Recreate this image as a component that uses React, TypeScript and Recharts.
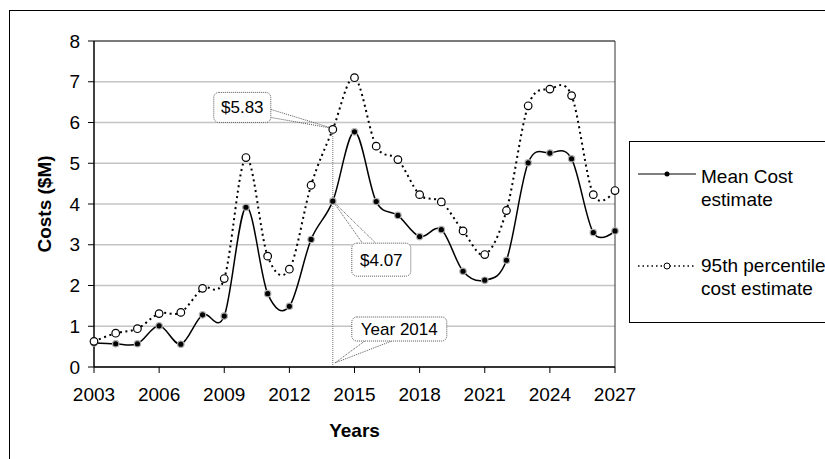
import React from "react";
import { LineChart, Line, XAxis, YAxis, CartesianGrid, Legend, ReferenceLine, ReferenceDot } from "recharts";

const years = [2003, 2004, 2005, 2006, 2007, 2008, 2009, 2010, 2011, 2012, 2013, 2014, 2015, 2016, 2017, 2018, 2019, 2020, 2021, 2022, 2023, 2024, 2025, 2026, 2027];
const meanCost = [0.59, 0.57, 0.57, 1.01, 0.56, 1.28, 1.25, 3.92, 1.8, 1.49, 3.13, 4.07, 5.77, 4.06, 3.72, 3.2, 3.37, 2.35, 2.13, 2.62, 5.01, 5.25, 5.11, 3.3, 3.34];
const p95Cost = [0.63, 0.83, 0.94, 1.31, 1.34, 1.93, 2.17, 5.14, 2.72, 2.4, 4.46, 5.83, 7.1, 5.42, 5.09, 4.23, 4.05, 3.34, 2.76, 3.84, 6.41, 6.82, 6.66, 4.23, 4.33];
const xTicks = [2003, 2006, 2009, 2012, 2015, 2018, 2021, 2024, 2027];
const yTicks = [0, 1, 2, 3, 4, 5, 6, 7, 8];
const seriesNames = ["Mean Cost estimate", "95th percentile cost estimate"];

const calloutYears = [2014, 2014, 2014];
const calloutValues = [5.83, 4.07, 0];
const calloutTexts = ["$5.83", "$4.07", "Year 2014"];

const data = years.map((y, i) => ({ year: y, mean: meanCost[i], p95: p95Cost[i] }));

const FONT = '"Liberation Sans", Arial, sans-serif';

// placement of each callout box relative to its point
const calloutLayout = [
  { dx: -119, dy: -37, w: 57, h: 30, a: [-62, -20], b: [-62, -12], tip: [0, -1] },
  { dx: 19, dy: 42, w: 59, h: 33, a: [29, 41], b: [42, 41], tip: [0, 0] },
  { dx: 19, dy: -50, w: 95, h: 24, a: [32, -26], b: [59, -26], tip: [2, -4] },
];

// excel-like smoothed line (catmull-rom)
function smooth(context: any) {
  let x0 = NaN, y0 = NaN, x1 = NaN, y1 = NaN, x2 = NaN, y2 = NaN, n = 0, line = NaN;
  const k = 1 / 6;
  const seg = (x: number, y: number) =>
    context.bezierCurveTo(x1 + k * (x2 - x0), y1 + k * (y2 - y0), x2 + k * (x1 - x), y2 + k * (y1 - y), x2, y2);
  return {
    areaStart() { line = 0; },
    areaEnd() { line = NaN; },
    lineStart() { x0 = x1 = x2 = y0 = y1 = y2 = NaN; n = 0; },
    lineEnd() {
      if (n === 2) context.lineTo(x2, y2);
      else if (n === 3) seg(x1, y1);
      if (line || (line !== 0 && n === 1)) context.closePath();
      line = 1 - line;
    },
    point(x: number, y: number) {
      x = +x; y = +y;
      if (n === 0) { n = 1; if (line) context.lineTo(x, y); else context.moveTo(x, y); }
      else if (n === 1) { n = 2; x1 = x; y1 = y; }
      else { if (n === 2) n = 3; seg(x, y); }
      x0 = x1; x1 = x2; x2 = x;
      y0 = y1; y1 = y2; y2 = y;
    },
  };
}

const meanDot = (p: any) => (
  <circle key={`m-${p.index}`} cx={p.cx} cy={p.cy} r={3.2} fill="#000" stroke="#b0b0b0" strokeWidth={1.2} />
);
const p95Dot = (p: any) => (
  <circle key={`p-${p.index}`} cx={p.cx} cy={p.cy} r={3.8} fill="#fff" stroke="#000" strokeWidth={1.2} />
);

function Callout(props: any) {
  const { cx, cy, text, lay } = props;
  const bx = cx + lay.dx;
  const by = cy + lay.dy;
  return (
    <g>
      <polyline
        points={`${cx + lay.a[0]},${cy + lay.a[1]} ${cx + lay.tip[0]},${cy + lay.tip[1]} ${cx + lay.b[0]},${cy + lay.b[1]}`}
        fill="none" stroke="#555" strokeDasharray="1 1" />
      <rect x={bx} y={by} width={lay.w} height={lay.h} rx={5} fill="#fff" stroke="#555" strokeDasharray="1 1" />
      <text x={bx + lay.w / 2} y={by + lay.h / 2} dy="0.35em" textAnchor="middle" fontSize={17} fontFamily={FONT} fill="#000">
        {text}
      </text>
    </g>
  );
}

const legendRows: Record<string, { sampleY: number; textTop: number }> = {
  mean: { sampleY: 32, textTop: 22.5 },
  p95: { sampleY: 124, textTop: 111.5 },
};

const renderLegend = (props: any) => {
  const payload = props.payload || [];
  return (
    <div style={{ position: "relative", width: 200, height: 182, border: "1px solid #000", boxSizing: "border-box", background: "#fff", fontFamily: FONT, fontSize: 19, color: "#000" }}>
      {payload.map((entry: any) => {
        const row = legendRows[entry.dataKey];
        const dotted = entry.dataKey === "p95";
        return (
          <React.Fragment key={entry.value}>
            <svg width={60} height={12} style={{ position: "absolute", left: 8, top: row.sampleY - 6 }}>
              <line x1={0} y1={6} x2={58} y2={6} stroke="#000" strokeWidth={dotted ? 1.5 : 1} strokeDasharray={dotted ? "1.5 3" : undefined} />
              {dotted ? <circle cx={29} cy={6} r={3} fill="#fff" stroke="#000" /> : <circle cx={29} cy={6} r={2.5} fill="#000" />}
            </svg>
            <div style={{ position: "absolute", left: 71, top: row.textTop, width: 126, lineHeight: "23px" }}>{entry.value}</div>
          </React.Fragment>
        );
      })}
    </div>
  );
};

export default function App() {
  return (
    <div style={{ position: "absolute", left: 0, top: 0, width: 825, height: 459, overflow: "hidden", background: "#fff" }}>
      <div style={{ position: "absolute", left: 9, top: 10, width: 900, height: 500, border: "1px solid #000" }} />
      <div style={{ position: "absolute", left: 0, top: 0 }}>
        <LineChart width={825} height={459} data={data} margin={{ top: 41, right: 210, left: 34, bottom: 42 }}>
          <CartesianGrid vertical={false} stroke="#c4c4c4" strokeWidth={1.5} />
          <XAxis
            dataKey="year" type="number" domain={[2003, 2027]} ticks={xTicks} interval={0}
            tickSize={6} tickMargin={15} height={50}
            axisLine={{ stroke: "#000", strokeWidth: 1.5 }} tickLine={{ stroke: "#000" }}
            tick={{ fontSize: 19, fill: "#000", fontFamily: FONT }}
            label={{ value: "Years", position: "bottom", offset: 7, style: { fontSize: 19, fontWeight: "bold", fill: "#000", fontFamily: FONT } }}
          />
          <YAxis
            domain={[0, 8]} ticks={yTicks} interval={0} width={60} tickSize={6} tickMargin={8}
            axisLine={{ stroke: "#000", strokeWidth: 1.5 }} tickLine={{ stroke: "#000" }}
            tick={{ fontSize: 19, fill: "#000", fontFamily: FONT }}
            label={{ value: "Costs ($M)", angle: -90, position: "insideLeft", offset: 10, style: { textAnchor: "middle", fontSize: 19, fontWeight: "bold", fill: "#000", fontFamily: FONT } }}
          />
          <ReferenceLine y={8} stroke="#222" strokeWidth={1.2} />
          <ReferenceLine x={2027} stroke="#333" strokeWidth={1} />
          <ReferenceLine
            segment={[{ x: calloutYears[0], y: 0 }, { x: calloutYears[0], y: calloutValues[0] }]}
            stroke="#777" strokeDasharray="1 1"
          />
          <Legend layout="vertical" align="center" verticalAlign="middle" content={renderLegend}
            wrapperStyle={{ left: 629, top: 141, width: 200, height: 182, right: "auto", bottom: "auto" }} />
          <Line name={seriesNames[0]} dataKey="mean" type={smooth as any} stroke="#000" strokeWidth={1.5} dot={meanDot} activeDot={false} isAnimationActive={false} />
          <Line name={seriesNames[1]} dataKey="p95" type={smooth as any} stroke="#000" strokeWidth={2} strokeDasharray="2 3.5" dot={p95Dot} activeDot={false} isAnimationActive={false} />
          {calloutTexts.map((t, i) => (
            <ReferenceDot key={t} x={calloutYears[i]} y={calloutValues[i]} r={0}
              shape={(p: any) => <Callout cx={p.cx} cy={p.cy} text={t} lay={calloutLayout[i]} />} />
          ))}
        </LineChart>
      </div>
    </div>
  );
}
